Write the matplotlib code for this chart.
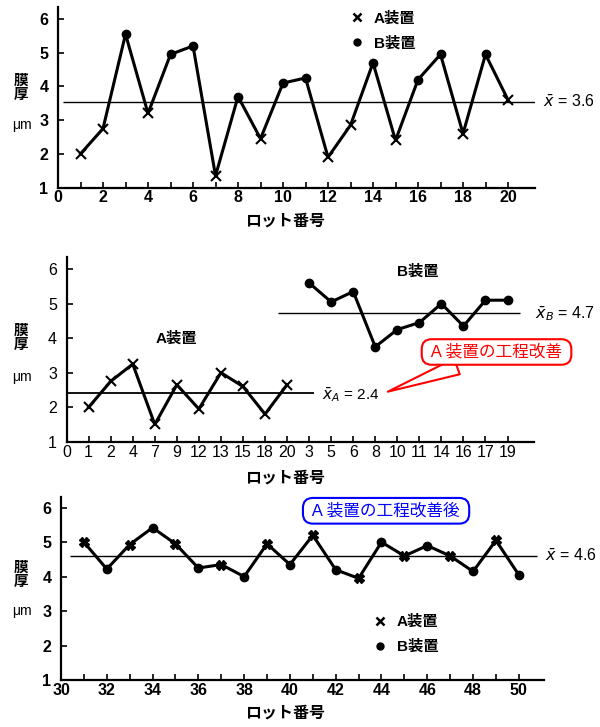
import numpy as np
import matplotlib
matplotlib.use("Agg")
import matplotlib.pyplot as plt
from matplotlib.lines import Line2D

plt.rcParams['font.family'] = ['Liberation Sans', 'Noto Sans CJK JP', 'DejaVu Sans']
plt.rcParams['mathtext.fontset'] = 'dejavusans'

# --- top panel: lots 1-20 in time order
lot1 = list(range(1, 21))
film1 = [2.0, 2.75, 5.55, 3.2, 4.95, 5.2, 1.35, 3.7, 2.45, 4.1,
         4.25, 1.9, 2.85, 4.7, 2.4, 4.2, 4.95, 2.6, 4.95, 3.6]
machine1 = ['A', 'A', 'B', 'A', 'B', 'B', 'A', 'B', 'A', 'B',
            'B', 'A', 'A', 'B', 'A', 'B', 'B', 'A', 'B', 'A']
mean1 = 3.55
mean1_label = '3.6'

# --- middle panel: split by machine
lotA = ['1', '2', '4', '7', '9', '12', '13', '15', '18', '20']
filmA = [2.0, 2.75, 3.25, 1.5, 2.65, 1.95, 3.0, 2.6, 1.8, 2.65]
lotB = ['3', '5', '6', '8', '10', '11', '14', '16', '17', '19']
filmB = [5.6, 5.05, 5.35, 3.75, 4.25, 4.45, 5.0, 4.35, 5.1, 5.1]
meanA, meanA_label = 2.4, '2.4'
meanB, meanB_label = 4.72, '4.7'

# --- bottom panel: lots 31-50 after improvement
lot3 = list(range(31, 51))
film3 = [5.0, 4.22, 4.93, 5.42, 4.95, 4.25, 4.35, 4.0, 4.95, 4.35,
         5.2, 4.2, 3.95, 5.0, 4.6, 4.9, 4.6, 4.15, 5.05, 4.05]
machine3 = ['A' if l % 2 else 'B' for l in lot3]
mean3 = 4.6
mean3_label = '4.6'

tickfont = dict(fontsize=11.5, fontweight='bold')


def style_axis(ax, ylim_top, ybold=True):
    for s in ['top', 'right']:
        ax.spines[s].set_visible(False)
    for s in ['left', 'bottom']:
        ax.spines[s].set_linewidth(1.6)
    ax.set_ylim(1, ylim_top)
    ax.set_yticks([1, 2, 3, 4, 5, 6])
    ax.tick_params(axis='both', which='both', direction='in', length=4, width=1.2)
    ax.tick_params(axis='y', pad=7)
    ax.tick_params(axis='x', pad=2)
    for lab in ax.get_yticklabels():
        lab.set_fontsize(11.5)
        lab.set_fontweight('bold' if ybold else 'normal')


fig = plt.figure(figsize=(6, 7.27), dpi=100)

# ================= panel 1
ax1 = fig.add_axes([0.0967, 0.742, 0.795, 0.2486])
ax1.plot(lot1, film1, color='black', lw=2.2, zorder=2)
xa = [l for l, m in zip(lot1, machine1) if m == 'A']
ya = [v for v, m in zip(film1, machine1) if m == 'A']
xb = [l for l, m in zip(lot1, machine1) if m == 'B']
yb = [v for v, m in zip(film1, machine1) if m == 'B']
ax1.plot(xa, ya, 'x', color='black', ms=7, mew=1.5, zorder=3)
ax1.plot(xb, yb, 'o', color='black', ms=6, zorder=3)
ax1.hlines(mean1, 0.2, 21.2, color='black', lw=1, zorder=1)
ax1.text(21.55, mean1, r'$\bar{x}$ = ' + mean1_label, fontsize=11.5,
         va='center', ha='left', clip_on=False)
ax1.set_xlim(0, 21.2)
style_axis(ax1, 6.36)
ax1.set_xticks(range(0, 21, 2))
ax1.set_xticks(range(1, 21, 2), minor=True)
ax1.set_xticklabels([str(t) for t in range(0, 21, 2)], **tickfont)

h1 = [Line2D([], [], marker='x', ls='none', color='black', ms=6, mew=1.8),
      Line2D([], [], marker='o', ls='none', color='black', ms=5)]
fig.legend(h1, ['A装置', 'B装置'], loc='upper left', bbox_to_anchor=(0.572, 0.993),
           frameon=False, handlelength=1.0, handletextpad=0.6, labelspacing=0.7,
           prop=dict(size=11, weight='bold'), borderaxespad=0)

# ================= panel 2
ax2 = fig.add_axes([0.111, 0.3924, 0.779, 0.2545])
labels2 = ['0'] + lotA + lotB
pos = np.arange(len(labels2))
posA = pos[1:1 + len(lotA)]
posB = pos[1 + len(lotA):]
ax2.plot(posA, filmA, color='black', lw=2.2, marker='x', ms=7, mew=1.5)
ax2.plot(posB, filmB, color='black', lw=2.2, marker='o', ms=6)
ax2.hlines(meanA, 0, 11.2, color='black', lw=1.3)
ax2.hlines(meanB, 9.6, 20.55, color='black', lw=1)
ax2.text(11.6, meanA - 0.02, r'$\bar{x}_A$ = ' + meanA_label, fontsize=11,
         va='center', ha='left')
ax2.text(21.25, meanB, r'$\bar{x}_B$ = ' + meanB_label, fontsize=11.5,
         va='center', ha='left', clip_on=False)
ax2.text(5.0, 3.98, 'A装置', fontsize=11, fontweight='bold', ha='center', va='center')
ax2.text(15.94, 5.92, 'B装置', fontsize=11, fontweight='bold', ha='center', va='center')
ax2.annotate(' A 装置の工程改善 ', xy=(14.57, 2.45), xytext=(19.5, 3.6),
             fontsize=12, color='red', ha='center', va='center',
             bbox=dict(boxstyle='round,pad=0.3,rounding_size=0.6', fc='white',
                       ec='red', lw=1.5),
             arrowprops=dict(arrowstyle='wedge,tail_width=1.0', fc='white',
                             ec='red', lw=1.5, shrinkB=0),
             annotation_clip=False, zorder=5)
ax2.set_xlim(0, 21.2)
style_axis(ax2, 6.36, ybold=False)
ax2.set_xticks(pos)
ax2.set_xticklabels(labels2, fontsize=11.5)

# ================= panel 3
ax3 = fig.add_axes([0.1017, 0.0646, 0.805, 0.2513])
ax3.plot(lot3, film3, color='black', lw=2.2, zorder=2)
xa3 = [l for l, m in zip(lot3, machine3) if m == 'A']
ya3 = [v for v, m in zip(film3, machine3) if m == 'A']
xb3 = [l for l, m in zip(lot3, machine3) if m == 'B']
yb3 = [v for v, m in zip(film3, machine3) if m == 'B']
ax3.plot(xa3, ya3, 'X', color='black', ms=7, zorder=3)
ax3.plot(xb3, yb3, 'o', color='black', ms=6, zorder=3)
ax3.hlines(mean3, 30.4, 50.8, color='black', lw=1, zorder=1)
ax3.text(51.15, mean3, r'$\bar{x}$ = ' + mean3_label, fontsize=11.5,
         va='center', ha='left', clip_on=False)
ax3.text(44.2, 5.91, ' A 装置の工程改善後 ', fontsize=12, color='blue',
         ha='center', va='center', zorder=5,
         bbox=dict(boxstyle='round,pad=0.3,rounding_size=0.6', fc='white',
                   ec='blue', lw=1.5))
ax3.set_xlim(30, 51.1)
style_axis(ax3, 6.3)
ax3.set_xticks(range(30, 51, 2))
ax3.set_xticks(range(31, 51, 2), minor=True)
ax3.set_xticklabels([str(t) for t in range(30, 51, 2)], **tickfont)

h3 = [Line2D([], [], marker='x', ls='none', color='black', ms=6, mew=1.8),
      Line2D([], [], marker='o', ls='none', color='black', ms=5)]
fig.legend(h3, ['A装置', 'B装置'], loc='upper left', bbox_to_anchor=(0.61, 0.163),
           frameon=False, handlelength=1.0, handletextpad=0.6, labelspacing=0.7,
           prop=dict(size=11, weight='bold'), borderaxespad=0)

# axis titles
for yk, ym, yx in [(0.879, 0.828, 0.696), (0.535, 0.481, 0.3425), (0.209, 0.160, 0.019)]:
    fig.text(0.035, yk, '膜\n厚', fontsize=10.5, fontweight='bold', ha='center',
             va='center', linespacing=1.0)
    fig.text(0.037, ym, 'μm', fontsize=10, ha='center', va='center')
    fig.text(0.475, yx, 'ロット番号', fontsize=11.5, fontweight='bold', ha='center',
             va='center')

fig.savefig('out.png', dpi=100)
